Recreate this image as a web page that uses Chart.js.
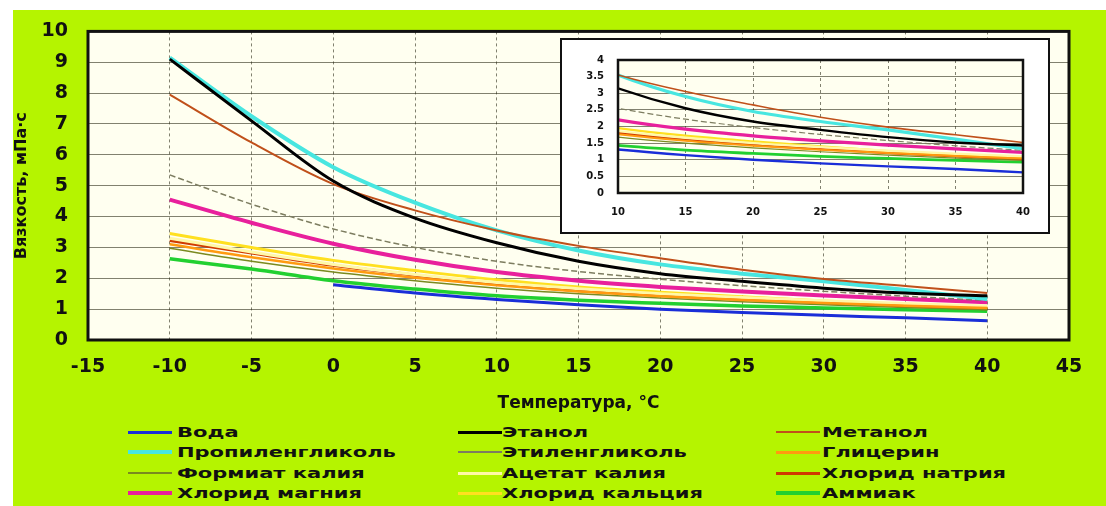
<!DOCTYPE html>
<html>
<head>
<meta charset="utf-8">
<script src="https://cdn.jsdelivr.net/npm/chart.js@4.4.1/dist/chart.umd.min.js"></script>
<style>
    html, body { margin: 0; padding: 0; background: #fff; }
    #page { position: relative; width: 1106px; height: 506px; overflow: hidden; }
    #lime { position: absolute; left: 13px; top: 10px; right: 0; bottom: 0; background: #b5f400; }
    #mainChart { position: absolute; left: 0; top: 0; }
    #insetBox {
        position: absolute; left: 560px; top: 38px; width: 490px; height: 196px;
        box-sizing: border-box; border: 2px solid #111; background: #fff;
    }
    #insetChart { display: block; }
    .lg-line { position: absolute; width: 44px; }
    .lg-text {
        position: absolute; font: bold 14px 'DejaVu Sans', sans-serif; color: #111;
        white-space: nowrap; transform: scaleX(1.5); transform-origin: left center;
        line-height: 18px;
    }
</style>
</head>
<body>
<div id="page">
    <div id="lime"></div>
    <canvas id="mainChart" width="1106" height="420"></canvas>
    <div id="insetBox"><canvas id="insetChart" width="486" height="192"></canvas></div>
    <div id="legend"></div>
</div>
<script>
// Температуры, °C
const temps = [-10, -5, 0, 5, 10, 15, 20, 25, 30, 35, 40];

// Вязкость, мПа·с
const voda           = [null, null, 1.79, 1.52, 1.31, 1.14, 1.0, 0.89, 0.8, 0.72, 0.62];
const etanol         = [9.1, 7.1, 5.15, 3.95, 3.15, 2.55, 2.15, 1.9, 1.68, 1.52, 1.43];
const metanol        = [7.95, 6.4, 5.05, 4.2, 3.55, 3.05, 2.65, 2.28, 1.98, 1.75, 1.52];
const propilenglikol = [9.15, 7.25, 5.6, 4.45, 3.55, 2.9, 2.45, 2.15, 1.9, 1.62, 1.33];
const etilenglikol   = [5.35, 4.4, 3.6, 3.0, 2.55, 2.22, 1.97, 1.76, 1.58, 1.42, 1.28];
const glicerin       = [3.1, 2.68, 2.32, 2.02, 1.77, 1.57, 1.42, 1.3, 1.2, 1.11, 1.04];
const formiatKaliya  = [2.97, 2.55, 2.2, 1.92, 1.68, 1.5, 1.36, 1.24, 1.14, 1.05, 0.98];
const acetatKaliya   = [3.3, 2.85, 2.45, 2.12, 1.86, 1.66, 1.5, 1.38, 1.27, 1.18, 1.1];
const hloridNatriya  = [3.22, 2.82, 2.42, 2.1, 1.82, 1.6, 1.45, 1.32, 1.2, 1.1, 1.01];
const hloridMagniya  = [4.55, 3.8, 3.12, 2.6, 2.2, 1.92, 1.72, 1.57, 1.44, 1.33, 1.22];
const hloridKalciya  = [3.45, 3.0, 2.58, 2.25, 1.95, 1.72, 1.55, 1.4, 1.26, 1.15, 1.06];
const ammiak         = [2.63, 2.3, 1.92, 1.65, 1.43, 1.29, 1.19, 1.1, 1.04, 0.98, 0.93];

// Axis ticks
const mainXTicks = { min: -15, max: 45, step: 5 };
const mainYTicks = { min: 0, max: 10, step: 1 };
const insetXTicks = { min: 10, max: 40, step: 5 };
const insetYTicks = { min: 0, max: 4, step: 0.5 };

// Series list (legend order, 3 columns)
const series = [
    { label: 'Вода',            data: voda,           color: '#1a2ed8', width: 3 },
    { label: 'Этанол',          data: etanol,         color: '#000000', width: 3 },
    { label: 'Метанол',         data: metanol,        color: '#c0501a', width: 2 },
    { label: 'Пропиленгликоль', data: propilenglikol, color: '#48e6e0', width: 4 },
    { label: 'Этиленгликоль',   data: etilenglikol,   color: '#7d7d60', width: 1.5, dash: [6, 3] },
    { label: 'Глицерин',        data: glicerin,       color: '#ff9a10', width: 2.5 },
    { label: 'Формиат калия',   data: formiatKaliya,  color: '#7a8a20', width: 1.5 },
    { label: 'Ацетат калия',    data: acetatKaliya,   color: '#fff8a8', width: 3 },
    { label: 'Хлорид натрия',   data: hloridNatriya,  color: '#d03a00', width: 3 },
    { label: 'Хлорид магния',   data: hloridMagniya,  color: '#e8209c', width: 4 },
    { label: 'Хлорид кальция',  data: hloridKalciya,  color: '#ffe020', width: 3 },
    { label: 'Аммиак',          data: ammiak,         color: '#22d030', width: 3.5 }
];

Chart.defaults.font.family = "'DejaVu Sans', sans-serif";
Chart.defaults.font.weight = 'bold';
Chart.defaults.color = '#111';

// Cream plot area + black frame
const plotFrame = {
    id: 'plotFrame',
    beforeDraw(chart, args, opts) {
        const { ctx, chartArea: a } = chart;
        ctx.save();
        ctx.fillStyle = '#fffff0';
        ctx.fillRect(a.left, a.top, a.right - a.left, a.bottom - a.top);
        ctx.restore();
    },
    afterDraw(chart, args, opts) {
        const { ctx, chartArea: a } = chart;
        ctx.save();
        ctx.strokeStyle = '#111';
        ctx.lineWidth = opts.border;
        ctx.strokeRect(a.left, a.top, a.right - a.left, a.bottom - a.top);
        ctx.restore();
    }
};

function buildDatasets(scale) {
    return series.map(s => ({
        label: s.label,
        data: temps.map((t, i) => ({ x: t, y: s.data[i] })),
        borderColor: s.color,
        backgroundColor: s.color,
        borderWidth: s.width * scale,
        borderDash: s.dash || [],
        pointRadius: 0,
        cubicInterpolationMode: 'monotone',
        fill: false
    }));
}

const gridColor = 'rgba(45, 45, 25, 0.6)';

// Main chart
const mainChart = new Chart(document.getElementById('mainChart'), {
    type: 'line',
    data: { datasets: buildDatasets(1) },
    plugins: [plotFrame],
    options: {
        responsive: false,
        animation: false,
        layout: { padding: { left: 12, top: 28, right: 37, bottom: 0 } },
        plugins: {
            legend: { display: false },
            tooltip: { enabled: false },
            plotFrame: { border: 3 }
        },
        scales: {
            x: {
                type: 'linear',
                min: mainXTicks.min,
                max: mainXTicks.max,
                afterFit: s => { s.height = 80; },
                ticks: { stepSize: mainXTicks.step, padding: 16, font: { size: 19, weight: 'bold' } },
                grid: { color: gridColor, drawTicks: false },
                border: { display: false, dash: [3, 3] },
                title: {
                    display: true,
                    text: 'Температура, °С',
                    font: { size: 17, weight: 'bold' },
                    padding: { top: 0, bottom: 6 }
                }
            },
            y: {
                min: mainYTicks.min,
                max: mainYTicks.max,
                afterFit: s => { s.width = 76; },
                ticks: { stepSize: mainYTicks.step, padding: 20, font: { size: 19, weight: 'bold' } },
                grid: { color: gridColor, drawTicks: false },
                border: { display: false },
                title: {
                    display: true,
                    text: 'Вязкость, мПа·с',
                    font: { size: 16, weight: 'bold' },
                    padding: { top: 0, bottom: 0 }
                }
            }
        }
    }
});

// Inset chart (10..40 °C)
const insetChart = new Chart(document.getElementById('insetChart'), {
    type: 'line',
    data: { datasets: buildDatasets(0.8) },
    plugins: [plotFrame],
    options: {
        responsive: false,
        animation: false,
        layout: { padding: { left: 0, top: 12, right: 25, bottom: 0 } },
        plugins: {
            legend: { display: false },
            tooltip: { enabled: false },
            plotFrame: { border: 2.5 }
        },
        scales: {
            x: {
                type: 'linear',
                min: insetXTicks.min,
                max: insetXTicks.max,
                afterFit: s => { s.height = 39; },
                ticks: { stepSize: insetXTicks.step, padding: 13, font: { size: 10, weight: 'bold' } },
                grid: { color: gridColor, drawTicks: false },
                border: { display: false, dash: [3, 3] }
            },
            y: {
                min: insetYTicks.min,
                max: insetYTicks.max,
                afterFit: s => { s.width = 56; },
                ticks: {
                    stepSize: insetYTicks.step,
                    padding: 14,
                    font: { size: 10, weight: 'bold' },
                    callback: value => String(value)
                },
                grid: { color: gridColor, drawTicks: false },
                border: { display: false }
            }
        }
    }
});

// HTML legend, 3 columns x 4 rows
function buildLegend(chart) {
    const lineLeft = [128, 458, 776];
    const textLeft = [177, 502, 822];
    const rowY = [432, 452, 473, 493];
    const legendDiv = document.getElementById('legend');
    chart.data.datasets.forEach((ds, i) => {
        const col = i % 3;
        const row = Math.floor(i / 3);
        const h = Math.max(2, Math.round(ds.borderWidth));
        const line = document.createElement('div');
        line.className = 'lg-line';
        line.style.left = lineLeft[col] + 'px';
        line.style.top = (rowY[row] - h / 2) + 'px';
        line.style.height = h + 'px';
        line.style.background = ds.borderColor;
        legendDiv.appendChild(line);

        const txt = document.createElement('div');
        txt.className = 'lg-text';
        txt.style.left = textLeft[col] + 'px';
        txt.style.top = (rowY[row] - 9) + 'px';
        txt.textContent = ds.label;
        legendDiv.appendChild(txt);
    });
}

buildLegend(mainChart);
</script>
</body>
</html>
